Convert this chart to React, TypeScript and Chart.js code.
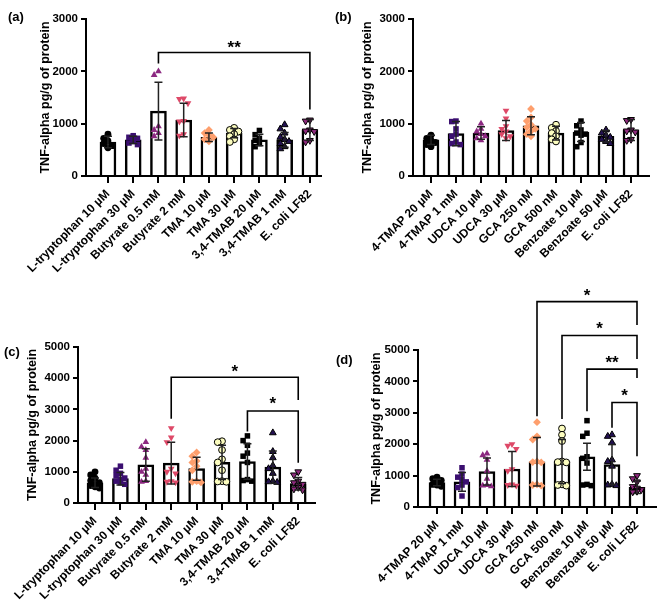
import React, { useEffect, useRef } from 'react';
import { Chart, registerables } from 'chart.js';
Chart.register(...registerables);

const FONT = "'Liberation Sans', Arial, Helvetica, sans-serif";

const labelsAC = ['L-tryptophan 10 µM', 'L-tryptophan 30 µM', 'Butyrate 0.5 mM', 'Butyrate 2 mM', 'TMA 10 µM', 'TMA 30 µM', '3,4-TMAB 20 µM', '3,4-TMAB 1 mM', 'E. coli LF82'];
const labelsBD = ['4-TMAP 20 µM', '4-TMAP 1 mM', 'UDCA 10 µM', 'UDCA 30 µM', 'GCA 250 nM', 'GCA 500 nM', 'Benzoate 10 µM', 'Benzoate 50 µM', 'E. coli LF82'];

// Panel (a)
const meanA = [650, 690, 1240, 1070, 740, 820, 690, 690, 880];
const sdA = [110, 70, 550, 320, 80, 90, 110, 140, 200];
const ptsA = [
  [800, 720, 670, 620, 580, 540],
  [770, 740, 720, 690, 660, 630, 600],
  [2000, 1930, 950, 880, 820, 760],
  [1480, 1470, 1390, 1050, 1040, 800, 770],
  [880, 820, 780, 740, 700, 660],
  [920, 880, 850, 800, 760, 700, 650],
  [870, 790, 720, 680, 620, 560],
  [980, 900, 820, 740, 700, 660, 620, 560, 520],
  [1070, 1050, 880, 860, 850, 680, 650],
];

// Panel (b)
const meanB = [690, 810, 820, 870, 960, 820, 840, 760, 880];
const sdB = [90, 230, 120, 190, 170, 130, 180, 110, 200];
const ptsB = [
  [780, 720, 680, 640, 600, 560],
  [1050, 1040, 900, 800, 760, 650, 620, 600],
  [1000, 900, 850, 800, 760, 720, 680],
  [1250, 1100, 950, 900, 850, 800, 760, 720],
  [1280, 1120, 1050, 980, 930, 900, 860, 800, 760],
  [980, 920, 860, 820, 760, 700, 660],
  [1050, 960, 880, 820, 800, 780, 640, 560],
  [880, 820, 780, 740, 700, 660, 620],
  [1080, 1060, 880, 860, 840, 700, 680],
];

// Panel (c)
const meanC = [650, 780, 1220, 1280, 1100, 1300, 1330, 1150, 620];
const sdC = [150, 200, 520, 670, 370, 550, 570, 520, 200];
const ptsC = [
  [1000, 900, 800, 720, 650, 600, 560, 520, 480],
  [1180, 1050, 950, 880, 800, 760, 700, 650, 600],
  [1950, 1800, 1700, 1450, 1100, 1000, 900, 700, 680],
  [2400, 2100, 1950, 1100, 1000, 950, 700, 680, 660],
  [1620, 1500, 1350, 1300, 1180, 1050, 700, 680, 660],
  [1980, 1950, 1700, 1400, 1300, 1050, 700, 690, 680],
  [2150, 2000, 1850, 1600, 1500, 1300, 750, 720, 700],
  [2250, 1650, 1450, 1200, 1100, 950, 700, 680, 660],
  [1000, 900, 700, 650, 600, 550, 500, 450, 420],
];

// Panel (d)
const meanD = [780, 800, 1130, 1210, 1440, 1450, 1600, 1350, 630];
const sdD = [100, 300, 430, 560, 770, 700, 430, 640, 200];
const ptsD = [
  [950, 900, 850, 800, 760, 720, 700, 660],
  [1250, 1050, 950, 880, 800, 700, 620, 350],
  [1700, 1650, 1500, 1150, 900, 700, 680, 660],
  [2000, 1950, 1850, 1200, 1150, 720, 700, 680],
  [2700, 2250, 2150, 1450, 1430, 1420, 720, 700, 680],
  [2500, 2300, 2100, 1450, 1430, 1420, 720, 700, 680],
  [2750, 2350, 2250, 1600, 1550, 1400, 720, 700, 680],
  [2300, 2250, 2050, 1500, 1450, 1300, 720, 700, 680],
  [1000, 900, 800, 650, 600, 550, 520, 500, 480],
];

type Bracket = { from: number; to: number; top: number; leftEnd: number; rightEnd: number; text: string; textY: number };
const sigA: Bracket[] = [{ from: 2, to: 8, top: 2360, leftEnd: 2150, rightEnd: 1270, text: '**', textY: 2550 }];
const sigB: Bracket[] = [];
const sigC: Bracket[] = [
  { from: 3, to: 8, top: 4030, leftEnd: 2700, rightEnd: 3300, text: '*', textY: 4370 },
  { from: 6, to: 8, top: 2950, leftEnd: 2290, rightEnd: 1290, text: '*', textY: 3340 },
];
const sigD: Bracket[] = [
  { from: 4, to: 8, top: 6540, leftEnd: 2890, rightEnd: 5800, text: '*', textY: 6890 },
  { from: 5, to: 8, top: 5460, leftEnd: 2800, rightEnd: 4710, text: '*', textY: 5830 },
  { from: 6, to: 8, top: 4390, leftEnd: 3050, rightEnd: 4110, text: '**', textY: 4740 },
  { from: 7, to: 8, top: 3330, leftEnd: 2520, rightEnd: 1620, text: '*', textY: 3680 },
];

const colors = ['#000000', '#3b0f70', '#8c2981', '#de4968', '#fe9f6d', '#fcfdbf', '#000000', '#231151', '#8f2a7e'];
const styles = ['circle', 'rect', 'triangle', 'triangle', 'rectRot', 'circle', 'rect', 'triangle', 'triangle'];
const rotations = [0, 0, 0, 180, 0, 0, 0, 0, 180];
const outlined = [false, false, false, false, false, true, false, true, true];

function spread(values: number[], yMax: number) {
  const thr = yMax / 32;
  const cands = [0, -0.17, 0.17, -0.3, 0.3, -0.09, 0.09, -0.24, 0.24];
  const placed: { x: number; y: number }[] = [];
  values.forEach((v) => {
    let dx = 0;
    for (const c of cands) {
      if (!placed.some((p) => Math.abs(p.y - v) < thr && Math.abs(p.x - c) < 0.15)) { dx = c; break; }
    }
    placed.push({ x: dx, y: v });
  });
  return placed;
}

type Spec = {
  left: number; top: number; w: number; h: number;
  cl: number; ct: number; cr: number; cb: number;
  xMin: number; xMax: number; yMax: number; step: number; titlePad: number;
  labels: string[]; means: number[]; sds: number[]; points: number[][]; brackets: Bracket[];
};

const specs: Spec[] = [
  { left: 0, top: 0, w: 334, h: 285, cl: 86, ct: 19, cr: 321, cb: 176, xMin: -0.87, xMax: 8.44, yMax: 3000, step: 1000, titlePad: 38.5, labels: labelsAC, means: meanA, sds: sdA, points: ptsA, brackets: sigA },
  { left: 334, top: 0, w: 334, h: 285, cl: 79, ct: 19, cr: 315, cb: 176, xMin: -0.72, xMax: 8.72, yMax: 3000, step: 1000, titlePad: 26, labels: labelsBD, means: meanB, sds: sdB, points: ptsB, brackets: sigB },
  { left: 0, top: 285, w: 334, h: 321, cl: 78, ct: 62, cr: 315, cb: 218, xMin: -0.67, xMax: 8.66, yMax: 5000, step: 1000, titlePad: 25.5, labels: labelsAC, means: meanC, sds: sdC, points: ptsC, brackets: sigC },
  { left: 334, top: 285, w: 334, h: 321, cl: 84, ct: 65, cr: 322, cb: 222, xMin: -0.76, xMax: 8.76, yMax: 5000, step: 1000, titlePad: 35.5, labels: labelsBD, means: meanD, sds: sdD, points: ptsD, brackets: sigD },
];

const panelLetters = [
  { t: '(a)', x: 8, y: 9 },
  { t: '(b)', x: 335, y: 9 },
  { t: '(c)', x: 4, y: 344 },
  { t: '(d)', x: 336, y: 352 },
];

function Panel({ s }: { s: Spec }) {
  const ref = useRef<HTMLCanvasElement>(null);
  useEffect(() => {
    const canvas = ref.current;
    if (!canvas) return;
    const datasets: any[] = [
      {
        type: 'bar',
        data: s.means.map((m, i) => ({ x: i, y: m })),
        backgroundColor: '#ffffff',
        borderColor: '#000000',
        borderWidth: 2.5,
        barThickness: 16,
        order: 2,
      },
    ];
    s.points.forEach((vals, i) => {
      datasets.push({
        type: 'scatter',
        data: spread(vals, s.yMax).map((p) => ({ x: i + p.x, y: p.y })),
        pointStyle: styles[i],
        pointRotation: rotations[i],
        pointBackgroundColor: colors[i],
        pointBorderColor: outlined[i] ? '#000000' : colors[i],
        pointBorderWidth: outlined[i] ? 1 : 0,
        pointRadius: styles[i] === 'circle' ? 3.4 : 3.9,
        order: 1,
      });
    });
    const overlay = {
      id: 'overlay',
      afterDatasetsDraw(chart: any) {
        const { ctx } = chart;
        const x = chart.scales.x;
        const y = chart.scales.y;
        ctx.save();
        ctx.strokeStyle = '#222222';
        ctx.lineWidth = 1.5;
        s.means.forEach((m, i) => {
          const px = x.getPixelForValue(i);
          const t = y.getPixelForValue(m + s.sds[i]);
          const b = y.getPixelForValue(Math.max(0, m - s.sds[i]));
          ctx.beginPath();
          ctx.moveTo(px, t); ctx.lineTo(px, b);
          ctx.moveTo(px - 4, t); ctx.lineTo(px + 4, t);
          ctx.moveTo(px - 4, b); ctx.lineTo(px + 4, b);
          ctx.stroke();
        });
        ctx.strokeStyle = '#000000';
        ctx.lineWidth = 1.6;
        s.brackets.forEach((br) => {
          const x1 = x.getPixelForValue(br.from);
          const x2 = x.getPixelForValue(br.to);
          const yt = y.getPixelForValue(br.top);
          ctx.beginPath();
          ctx.moveTo(x1, y.getPixelForValue(br.leftEnd));
          ctx.lineTo(x1, yt);
          ctx.lineTo(x2, yt);
          ctx.lineTo(x2, y.getPixelForValue(br.rightEnd));
          ctx.stroke();
          ctx.fillStyle = '#000000';
          ctx.font = `bold 17px ${FONT}`;
          ctx.textAlign = 'center';
          ctx.textBaseline = 'alphabetic';
          ctx.fillText(br.text, (x1 + x2) / 2, y.getPixelForValue(br.textY) + 10);
        });
        ctx.restore();
      },
    };
    const chart = new Chart(canvas, {
      type: 'bar',
      data: { datasets },
      plugins: [overlay],
      options: {
        responsive: false,
        animation: false,
        events: [],
        layout: { padding: { left: 0, top: s.ct, right: s.w - s.cr, bottom: 0 } },
        plugins: { legend: { display: false }, tooltip: { enabled: false } },
        scales: {
          x: {
            type: 'linear',
            offset: false,
            min: s.xMin,
            max: s.xMax,
            afterBuildTicks: (sc: any) => { sc.ticks = s.labels.map((_, i) => ({ value: i })); },
            afterFit: (sc: any) => {
              sc.height = s.h - s.cb;
              sc.paddingLeft = 0;
              sc.paddingRight = 0;
            },
            ticks: {
              autoSkip: false,
              minRotation: 45,
              maxRotation: 45,
              padding: 4,
              color: '#000000',
              font: { family: FONT, size: 12, weight: 'bold' },
              callback: (v: any) => s.labels[Math.round(Number(v))] ?? '',
            },
            grid: { offset: false, drawOnChartArea: false, drawTicks: true, tickLength: 7, color: '#000000', lineWidth: 2 },
            border: { color: '#000000', width: 2 },
          },
          y: {
            min: 0,
            max: s.yMax,
            afterFit: (sc: any) => {
              sc.width = s.cl;
              sc.paddingTop = 0;
              sc.paddingBottom = 0;
            },
            ticks: {
              stepSize: s.step,
              padding: 3,
              color: '#000000',
              font: { family: FONT, size: 11.5, weight: 'bold' },
              callback: (v: any) => String(v),
            },
            grid: { drawOnChartArea: false, drawTicks: true, tickLength: 5, color: '#000000', lineWidth: 2 },
            border: { color: '#000000', width: 2 },
            title: {
              display: true,
              text: 'TNF-alpha pg/g of protein',
              color: '#000000',
              font: { family: FONT, size: 12.5, weight: 'bold' },
              padding: { top: s.titlePad, bottom: 0 },
            },
          },
        },
      } as any,
    });
    return () => chart.destroy();
  }, []);
  return (
    <canvas
      ref={ref}
      width={s.w}
      height={s.h}
      style={{ position: 'absolute', left: s.left, top: s.top, width: s.w, height: s.h }}
    />
  );
}

export default function App() {
  return (
    <div style={{ position: 'fixed', left: 0, top: 0, width: 668, height: 606, background: '#ffffff', overflow: 'hidden' }}>
      {specs.map((s, i) => (
        <Panel key={i} s={s} />
      ))}
      {panelLetters.map((p) => (
        <div
          key={p.t}
          style={{ position: 'absolute', left: p.x, top: p.y, fontFamily: FONT, fontWeight: 'bold', fontSize: 13, lineHeight: '16px', color: '#000' }}
        >
          {p.t}
        </div>
      ))}
    </div>
  );
}
